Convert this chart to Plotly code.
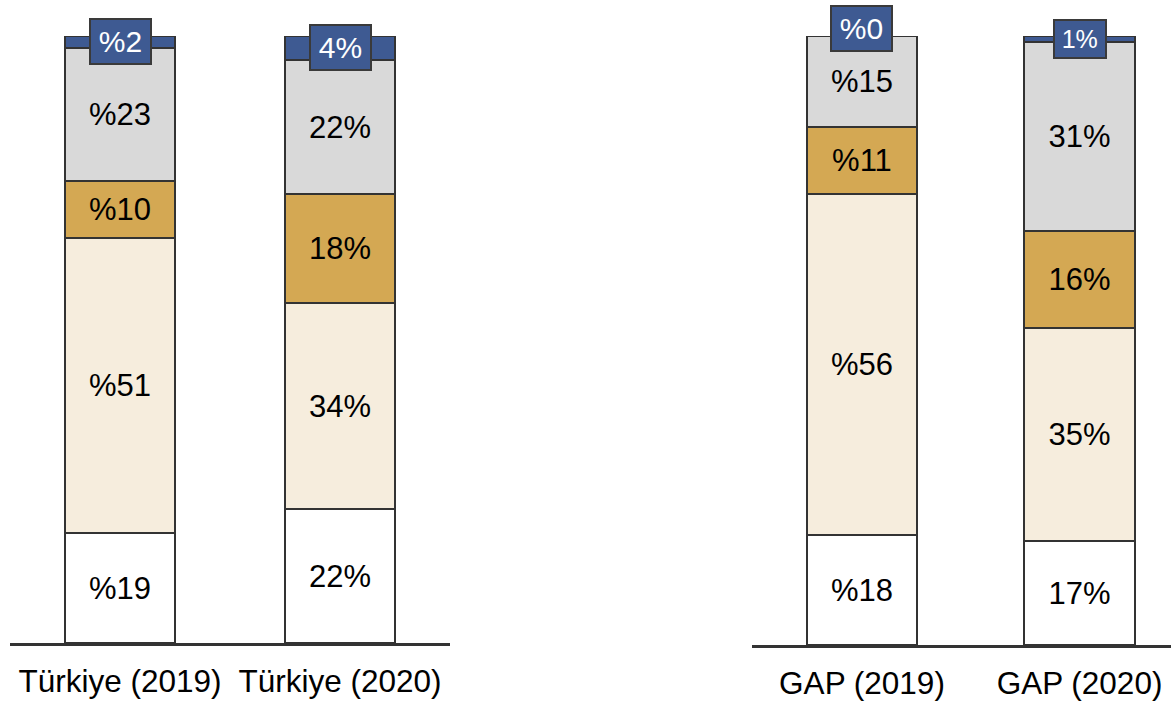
import plotly.graph_objects as go

# Categories for the two panels
left_cats = ["Türkiye (2019)", "Türkiye (2020)"]
right_cats = ["GAP (2019)", "GAP (2020)"]

# Segment values, bottom to top
left_white = [19, 22]
left_cream = [51, 34]
left_tan = [10, 18]
left_gray = [23, 22]
left_blue = [2, 4]

right_white = [18, 17]
right_cream = [56, 35]
right_tan = [11, 16]
right_gray = [15, 31]
right_blue = [0, 1]

# Label formats differ between years ("%19" vs "22%")
left_fmt = ["%{}", "{}%"]
right_fmt = ["%{}", "{}%"]

colors = {
    "white": "#ffffff",
    "cream": "#f6eddd",
    "tan": "#d4a853",
    "gray": "#d9d9d9",
    "blue": "#3e5a92",
}
edge = "#333333"
FONT = "Liberation Sans, Arial"

W, H = 1171, 702


def px_y(p):
    return 1 - p / H


fig = go.Figure()


def add_stack(cats, series, fmts, xa, ya, width):
    for name, vals in series:
        texts = [f.format(v) for f, v in zip(fmts, vals)]
        fig.add_trace(go.Bar(
            x=cats, y=vals, xaxis=xa, yaxis=ya, width=width,
            marker=dict(color=colors[name], line=dict(color=edge, width=2)),
            text=texts if name != "blue" else None,
            textposition="inside" if name != "blue" else "none",
            insidetextanchor="middle", textangle=0,
            constraintext="none",
            insidetextfont=dict(family=FONT, size=31, color="#000000"),
            showlegend=False, hoverinfo="skip",
        ))


left_series = [("white", left_white), ("cream", left_cream), ("tan", left_tan),
               ("gray", left_gray), ("blue", left_blue)]
right_series = [("white", right_white), ("cream", right_cream), ("tan", right_tan),
                ("gray", right_gray), ("blue", right_blue)]

add_stack(left_cats, left_series, left_fmt, "x", "y", 0.5)
add_stack(right_cats, right_series, right_fmt, "x2", "y2", 0.506)

# Label boxes for the top (blue) segments
annots = []


def box_labels(cats, series, fmts, xa, ya, sizes, shifts):
    for i, c in enumerate(cats):
        total = sum(s[1][i] for s in series)
        blue = series[-1][1][i]
        yc = (total - blue / 2) / total * 100
        annots.append(dict(
            x=c, y=yc, xref=xa, yref=ya, text=fmts[i].format(blue),
            showarrow=False, yshift=shifts[i],
            font=dict(family=FONT, size=sizes[i], color="white"),
            bgcolor=colors["blue"], bordercolor="#3a3a3a", borderwidth=2,
            borderpad=1, width=sizes[i] * 1.9, height=sizes[i] * 1.35,
        ))


box_labels(left_cats, left_series, left_fmt, "x", "y", [30, 30], [0, 1])
box_labels(right_cats, right_series, right_fmt, "x2", "y2", [30, 25], [8, 0])

axis_common = dict(
    type="category", showline=True, linecolor=edge, linewidth=3,
    showgrid=False, zeroline=False, ticks="", fixedrange=True,
    tickfont=dict(family=FONT, size=31.5, color="#000000"),
    ticklabelstandoff=8, automargin=False,
)
yaxis_common = dict(range=[0, 100], visible=False, showgrid=False,
                    zeroline=False, fixedrange=True, automargin=False)

fig.update_layout(
    width=W, height=H,
    margin=dict(l=0, r=0, t=0, b=0),
    paper_bgcolor="white", plot_bgcolor="white",
    barmode="stack", barnorm="percent",
    xaxis=dict(domain=[10 / W, 450 / W], range=[-0.5, 1.5], anchor="y", **axis_common),
    xaxis2=dict(domain=[752 / W, 1.0], range=[-0.5057, 1.4207], anchor="y2", **axis_common),
    yaxis=dict(domain=[px_y(643), px_y(36)], anchor="x", **yaxis_common),
    yaxis2=dict(domain=[px_y(645), px_y(36)], anchor="x2", **yaxis_common),
    annotations=annots,
)

fig.write_html("out.html")
